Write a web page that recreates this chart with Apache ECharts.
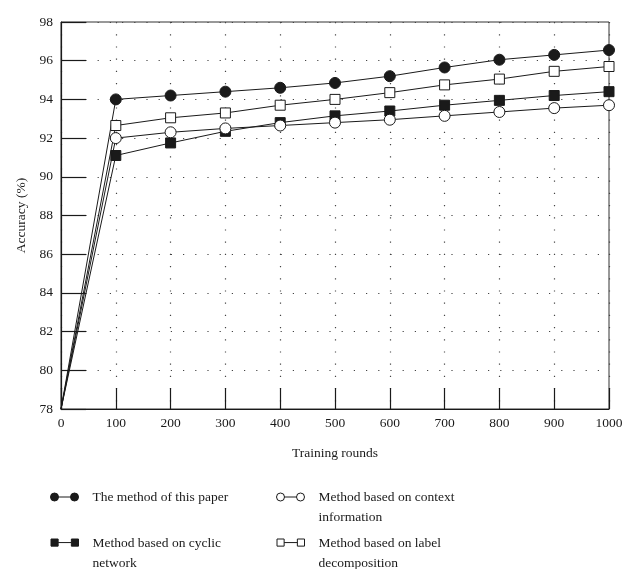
<!DOCTYPE html>
<html>
<head>
<meta charset="utf-8">
<script src="https://cdn.jsdelivr.net/npm/echarts@6/dist/echarts.min.js"></script>
<style>
html, body { margin: 0; padding: 0; background: #fff; }
#chart { width: 635px; height: 569px; }
</style>
</head>
<body>
<div id="chart"></div>
<script>
// training rounds (x)
var rounds = [0, 100, 200, 300, 400, 500, 600, 700, 800, 900, 1000];
// accuracy (%) of each method
var thisPaper = [78, 94.0, 94.2, 94.4, 94.6, 94.85, 95.2, 95.65, 96.05, 96.3, 96.55];
var contextInfo = [78, 92.0, 92.3, 92.5, 92.65, 92.8, 92.95, 93.15, 93.35, 93.55, 93.7];
var cyclicNet = [78, 91.1, 91.75, 92.35, 92.8, 93.15, 93.4, 93.7, 93.95, 94.2, 94.4];
var labelDecomp = [78, 92.65, 93.05, 93.3, 93.7, 94.0, 94.35, 94.75, 95.05, 95.45, 95.7];

var names = ['The method of this paper', 'Method based on context\ninformation',
	'Method based on cyclic\nnetwork', 'Method based on label\ndecomposition'];

var FONT = 'Liberation Serif';
var INK = '#1a1a1a';

function pairs(vals) {
	var out = [];
	for (var i = 0; i < rounds.length; i++) {
		if (i === 0) {
			out.push({ value: [rounds[i], vals[i]], symbol: 'none' });
		} else {
			out.push([rounds[i], vals[i]]);
		}
	}
	return out;
}

// legend icons: two markers joined by a line
var circlePair = 'M0,4a4,4 0 1,0 8,0a4,4 0 1,0 -8,0Z M8,4L20,4 M20,4a4,4 0 1,0 8,0a4,4 0 1,0 -8,0Z';
var squarePair = 'M0.5,0.5L7.5,0.5L7.5,7.5L0.5,7.5Z M7.5,4L20.5,4 M20.5,0.5L27.5,0.5L27.5,7.5L20.5,7.5Z';
// tall box so a two line label keeps its first line level with the icon
var tail = ' M0,28L0.01,28';

function legendAt(name, icon, filled, left, top, twoLines) {
	return {
		left: left,
		top: top,
		padding: 0,
		selectedMode: false,
		itemWidth: 28,
		itemHeight: twoLines ? 28 : 8,
		data: [{
			name: name,
			icon: 'path://' + icon + (twoLines ? tail : ''),
			itemStyle: { color: filled ? INK : '#fff', borderColor: INK, borderWidth: 1 }
		}],
		textStyle: {
			fontFamily: FONT, fontSize: 13.5, color: INK,
			lineHeight: 20, padding: [0, 0, 0, 9]
		}
	};
}

function makeSeries(name, vals, symbol, size, filled) {
	return {
		name: name,
		type: 'line',
		data: pairs(vals),
		symbol: symbol,
		symbolSize: size,
		showSymbol: true,
		animation: false,
		color: INK,
		lineStyle: { color: INK, width: 1 },
		itemStyle: { color: filled ? INK : '#fff', borderColor: INK, borderWidth: 1 },
		z: filled ? 3 : 4
	};
}

var myChart = echarts.init(document.getElementById('chart'));

var option = {
	backgroundColor: '#fff',
	animation: false,
	grid: {
		left: 61, right: 26, top: 22, bottom: 160,
		show: true, borderColor: '#333', borderWidth: 1
	},
	legend: [
		legendAt(names[0], circlePair, true, 50, 487, false),
		legendAt(names[1], circlePair, false, 276, 487, true),
		legendAt(names[2], squarePair, true, 50, 533, true),
		legendAt(names[3], squarePair, false, 276, 533, true)
	],
	xAxis: {
		type: 'value',
		min: 0, max: 1000, interval: 100,
		name: 'Training rounds',
		nameLocation: 'middle',
		nameGap: 37,
		nameTextStyle: { fontFamily: FONT, fontSize: 13.5, color: INK },
		axisLine: { show: true, lineStyle: { color: INK, width: 1.2 } },
		axisTick: { show: true, inside: true, length: 21, lineStyle: { color: INK, width: 1.2 } },
		axisLabel: {
			fontFamily: FONT, fontSize: 13.5, color: INK, margin: 7,
			formatter: function (v) { return String(v); }
		},
		splitLine: { show: true, lineStyle: { color: '#444', width: 1.2, type: [1.2, 11] } }
	},
	yAxis: {
		type: 'value',
		min: 78, max: 98, interval: 2,
		name: 'Accuracy (%)',
		nameLocation: 'middle',
		nameGap: 26,
		nameTextStyle: { fontFamily: FONT, fontSize: 13.5, color: INK },
		axisLine: { show: true, lineStyle: { color: INK, width: 1.2 } },
		axisTick: { show: true, inside: true, length: 25, lineStyle: { color: INK, width: 1.2 } },
		axisLabel: { fontFamily: FONT, fontSize: 13.5, color: INK, margin: 8 },
		splitLine: { show: true, lineStyle: { color: '#444', width: 1.2, type: [1.2, 11] } }
	},
	series: [
		makeSeries(names[0], thisPaper, 'circle', 11, true),
		makeSeries(names[1], contextInfo, 'circle', 11, false),
		makeSeries(names[2], cyclicNet, 'rect', 10, true),
		makeSeries(names[3], labelDecomp, 'rect', 10, false)
	]
};

myChart.setOption(option);
</script>
</body>
</html>
